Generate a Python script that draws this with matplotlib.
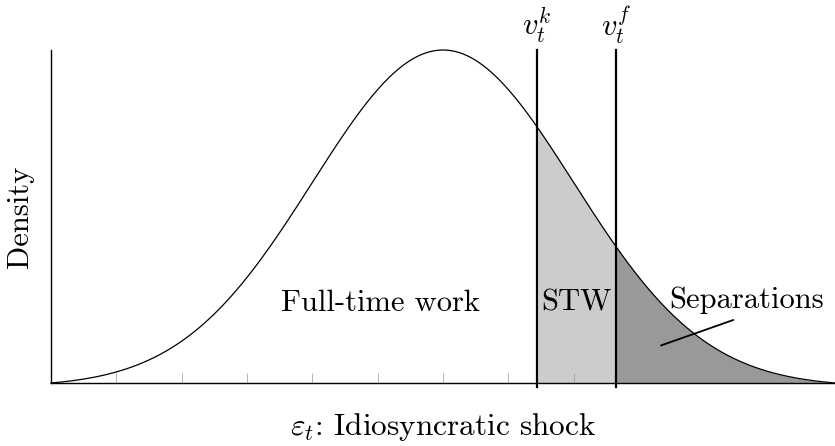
import numpy as np
import matplotlib
matplotlib.use("Agg")
import matplotlib.pyplot as plt

plt.rcParams['font.family'] = ['cmr10', 'DejaVu Serif']
plt.rcParams['mathtext.fontset'] = 'cm'
plt.rcParams['axes.formatter.use_mathtext'] = True

# Data
x_min, x_max = -3.0, 3.0
mu, sigma = 0.0, 1.0
v_k = 0.72
v_f = 1.325
tick_positions = [-2.5, -2.0, -1.5, -1.0, -0.5, 0.0, 0.5, 1.0, 1.5, 2.0, 2.5]
threshold_labels = [r"$v_t^k$", r"$v_t^f$"]
region_labels = ["Full-time work", "STW", "Separations"]
region_label_x = [-0.48, 1.02, 2.32]
region_label_y = [0.099, 0.099, 0.103]
pointer_x = [1.67, 2.22]
pointer_y = [0.049, 0.079]

x = np.linspace(x_min, x_max, 600)
pdf = np.exp(-0.5 * ((x - mu) / sigma) ** 2) / (sigma * np.sqrt(2 * np.pi))
ymin, ymax = pdf.min(), pdf.max()

W, H = 835, 446
fig = plt.figure(figsize=(W / 100, H / 100), dpi=100)
ax = fig.add_axes([51 / W, (446 - 383) / H, (835 - 51) / W, (383 - 50) / H])

ax.plot(x, pdf, color='black', lw=0.9, clip_on=False, zorder=3)
m1 = (x >= v_k) & (x <= v_f)
ax.fill_between(x[m1], ymin, pdf[m1], color='#cccccc', lw=0, zorder=1)
m2 = x >= v_f
ax.fill_between(x[m2], ymin, pdf[m2], color='#999999', lw=0, zorder=1)

for v, lab in zip([v_k, v_f], threshold_labels):
    ax.plot([v, v], [ymin - 0.005, ymax], color='black', lw=1.6, clip_on=False, zorder=4)
    ax.text(v, ymax + 0.0296, lab, ha='center', va='center', fontsize=22)

for lab, lx, ly in zip(region_labels, region_label_x, region_label_y):
    ax.text(lx, ly, lab, ha='center', va='center', fontsize=22, zorder=5)

ax.plot(pointer_x, pointer_y, color='black', lw=1.3, zorder=5)

ax.set_xlim(x_min, x_max)
ax.set_ylim(ymin, ymax)
ax.set_xticks(tick_positions)
ax.set_xticklabels([])
ax.set_yticks([])
ax.tick_params(axis='x', direction='in', length=7.5, width=0.5, color='#999999')
for s in ['top', 'right']:
    ax.spines[s].set_visible(False)
for s in ['left', 'bottom']:
    ax.spines[s].set_linewidth(1.0)
    ax.spines[s].set_zorder(6)

ax.set_xlabel(r"$\varepsilon_t$: Idiosyncratic shock", fontsize=22.5, labelpad=17)
ax.set_ylabel("Density", fontsize=22, labelpad=12)

fig.savefig("out.png", dpi=100)
